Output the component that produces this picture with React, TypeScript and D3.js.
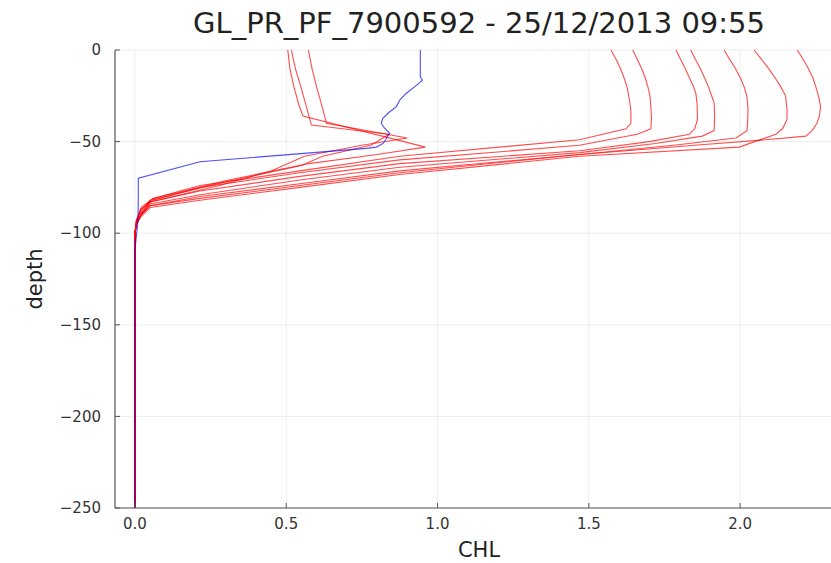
import React from "react";
import * as d3 from "d3";

const TITLE = "GL_PR_PF_7900592 - 25/12/2013 09:55";
const X_LABEL = "CHL";
const Y_LABEL = "depth";
const X_TICKS = [0, 0.5, 1.0, 1.5, 2.0];
const Y_TICKS = [0, -50, -100, -150, -200, -250];
const X_DOMAIN = [-0.066, 2.34];
const Y_DOMAIN = [-250, 0];

// current profile (blue)
const BLUE_DEPTH = [0, -5, -10, -14.6, -16.4, -20, -23.6, -27.3, -30.9, -34, -37.3, -40, -42.7, -45.5, -51, -53, -53.7, -61, -70, -80, -93, -109, -150, -200, -250];
const BLUE_CHL = [0.943, 0.943, 0.943, 0.943, 0.95, 0.925, 0.897, 0.875, 0.864, 0.84, 0.819, 0.814, 0.825, 0.842, 0.82, 0.798, 0.765, 0.215, 0.011, 0.011, 0.01, 0.0, 0.0, 0.0, 0.0];

// neighbouring profiles (red)
const L1_DEPTH = [0, -10, -20, -30, -36, -53, -57, -62, -71, -81, -87, -93, -100, -250];
const L1_CHL = [0.505, 0.512, 0.525, 0.542, 0.555, 0.96, 0.8, 0.575, 0.31, 0.06, 0.02, 0.005, 0, 0];
const L2_DEPTH = [0, -10, -20, -30, -41, -46, -52, -58, -63, -72, -82, -88, -93, -100, -250];
const L2_CHL = [0.517, 0.53, 0.548, 0.565, 0.583, 0.84, 0.78, 0.62, 0.55, 0.3, 0.05, 0.02, 0.005, 0, 0];
const L3_DEPTH = [0, -10, -20, -30, -40, -48, -52, -58, -66, -74, -83, -90, -95, -100, -250];
const L3_CHL = [0.573, 0.585, 0.6, 0.617, 0.633, 0.9, 0.75, 0.56, 0.45, 0.28, 0.05, 0.02, 0.005, 0, 0];
const R1_DEPTH = [0, -5, -10, -15, -20, -27, -33, -40, -43, -49, -58, -66, -74, -81, -86, -93, -100, -250];
const R1_CHL = [1.573, 1.59, 1.604, 1.616, 1.626, 1.634, 1.639, 1.639, 1.623, 1.469, 0.875, 0.545, 0.215, 0.06, 0.02, 0.005, 0, 0];
const R2_DEPTH = [0, -5, -10, -15, -20, -25, -31, -37, -43, -46, -52, -60, -67, -75, -82, -87, -93, -100, -250];
const R2_CHL = [1.645, 1.66, 1.674, 1.686, 1.695, 1.702, 1.705, 1.707, 1.705, 1.66, 1.469, 0.875, 0.545, 0.215, 0.06, 0.02, 0.005, 0, 0];
const R3_DEPTH = [0, -5, -10, -15, -20, -24, -30, -38, -43, -46, -50, -55, -62, -69, -77, -83, -89, -95, -100, -250];
const R3_CHL = [1.788, 1.803, 1.818, 1.832, 1.846, 1.854, 1.858, 1.859, 1.85, 1.832, 1.7, 1.47, 0.875, 0.545, 0.215, 0.05, 0.02, 0.005, 0, 0];
const R4_DEPTH = [0, -5, -10, -15, -20, -25, -29, -36, -44, -47, -51, -56, -64, -71, -79, -84, -90, -95, -100, -250];
const R4_CHL = [1.837, 1.852, 1.868, 1.882, 1.895, 1.906, 1.914, 1.916, 1.914, 1.875, 1.72, 1.47, 0.875, 0.545, 0.215, 0.05, 0.02, 0.005, 0, 0];
const R5_DEPTH = [0, -5, -10, -15, -20, -25, -32, -38, -44, -48, -52, -57, -66, -73, -80, -85, -90, -95, -100, -250];
const R5_CHL = [1.947, 1.965, 1.984, 2.0, 2.013, 2.022, 2.026, 2.025, 2.023, 1.986, 1.78, 1.47, 0.875, 0.545, 0.215, 0.05, 0.02, 0.005, 0, 0];
const R6_DEPTH = [0, -5, -10, -15, -20, -25, -32, -38, -43, -46, -53, -58, -68, -75, -82, -86, -91, -95, -100, -250];
const R6_CHL = [2.046, 2.07, 2.094, 2.115, 2.134, 2.15, 2.155, 2.155, 2.14, 2.118, 1.997, 1.47, 0.875, 0.545, 0.215, 0.05, 0.02, 0.005, 0, 0];
const R7_DEPTH = [0, -5, -10, -15, -20, -25, -31, -36, -40, -44, -47, -49, -52, -57, -67, -74, -81, -85, -90, -95, -100, -250];
const R7_CHL = [2.189, 2.208, 2.225, 2.24, 2.25, 2.259, 2.266, 2.262, 2.254, 2.238, 2.217, 2.085, 1.85, 1.47, 0.875, 0.545, 0.215, 0.05, 0.02, 0.005, 0, 0];

const RED_PROFILES = [
  [L1_CHL, L1_DEPTH], [L2_CHL, L2_DEPTH], [L3_CHL, L3_DEPTH],
  [R1_CHL, R1_DEPTH], [R2_CHL, R2_DEPTH], [R3_CHL, R3_DEPTH], [R4_CHL, R4_DEPTH],
  [R5_CHL, R5_DEPTH], [R6_CHL, R6_DEPTH], [R7_CHL, R7_DEPTH],
];

const W = 831;
const H = 563;
const M = { left: 115, right: 843, top: 50, bottom: 508 };
const FONT = "DejaVu Sans, sans-serif";

export default function App() {
  const x = d3.scaleLinear().domain(X_DOMAIN).range([M.left, M.right]);
  const y = d3.scaleLinear().domain(Y_DOMAIN).range([M.bottom, M.top]);
  const line = d3.line<[number, number]>().x((d) => x(d[0])).y((d) => y(d[1]));
  const toPts = (c: number[], dp: number[]) => c.map((v, i) => [v, dp[i]] as [number, number]);
  const fmtY = (v: number) => (v < 0 ? "\u2212" + Math.abs(v) : String(v));
  return (
    <svg width={W} height={H} style={{ position: "absolute", left: 0, top: 0, background: "#fff" }} fontFamily={FONT}>
      <defs>
        <clipPath id="plotclip">
          <rect x={M.left} y={M.top - 2} width={M.right - M.left} height={M.bottom - M.top + 2} />
        </clipPath>
      </defs>
      <rect x={0} y={0} width={W} height={H} fill="#fff" />
      {X_TICKS.map((t) => (
        <line key={"gx" + t} x1={x(t)} x2={x(t)} y1={M.top} y2={M.bottom} stroke="#000" strokeOpacity={0.07} strokeWidth={1} />
      ))}
      {Y_TICKS.map((t) => (
        <line key={"gy" + t} x1={M.left} x2={M.right} y1={y(t)} y2={y(t)} stroke="#000" strokeOpacity={0.07} strokeWidth={1} />
      ))}
      <g clipPath="url(#plotclip)">
        {RED_PROFILES.map(([c, dp], i) => (
          <path key={"r" + i} d={line(toPts(c, dp)) || ""} fill="none" stroke="#ff0000" strokeOpacity={0.7} strokeWidth={1.1} />
        ))}
        <path d={line(toPts(BLUE_CHL, BLUE_DEPTH)) || ""} fill="none" stroke="#0000ff" strokeOpacity={0.7} strokeWidth={1.1} />
      </g>
      <line x1={M.left} x2={M.left} y1={M.top} y2={M.bottom} stroke="#555" strokeWidth={1.2} />
      <line x1={M.left} x2={M.right} y1={M.bottom} y2={M.bottom} stroke="#555" strokeWidth={1.2} />
      {X_TICKS.map((t) => (
        <g key={"tx" + t}>
          <line x1={x(t)} x2={x(t)} y1={M.bottom} y2={M.bottom - 5} stroke="#555" />
          <text x={x(t)} y={M.bottom + 21} textAnchor="middle" fontSize={15} fill="#333">{d3.format(".1f")(t)}</text>
        </g>
      ))}
      {Y_TICKS.map((t) => (
        <g key={"ty" + t}>
          <line x1={M.left} x2={M.left + 5} y1={y(t)} y2={y(t)} stroke="#555" />
          <text x={M.left - 14} y={y(t)} dy="0.35em" textAnchor="end" fontSize={15} fill="#333">{fmtY(t)}</text>
        </g>
      ))}
      <text x={(M.left + M.right) / 2} y={557} textAnchor="middle" fontSize={21} fill="#222">{X_LABEL}</text>
      <text transform={`translate(42,${(M.top + M.bottom) / 2}) rotate(-90)`} textAnchor="middle" fontSize={21} fill="#222">{Y_LABEL}</text>
      <text x={(M.left + M.right) / 2} y={33} textAnchor="middle" fontSize={29} fill="#222">{TITLE}</text>
    </svg>
  );
}
